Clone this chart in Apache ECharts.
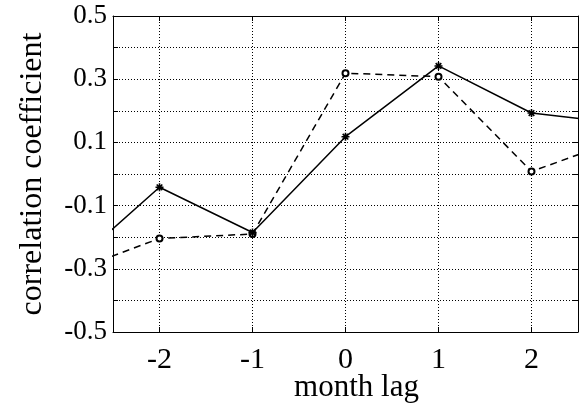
<!DOCTYPE html>
<html>
<head>
<meta charset="utf-8">
<script src="https://cdn.jsdelivr.net/npm/echarts@6/dist/echarts.min.js"></script>
<style>html,body{margin:0;padding:0;background:#fff;}#c{width:579px;height:406px;}</style>
</head>
<body>
<div id="c"></div>
<script>
// month lags (the lines run past the visible window and are clipped)
var lags = [-3, -2, -1, 0, 1, 2, 3];
// solid line with asterisk markers
var solidSeries = [-0.303, -0.042, -0.185, 0.118, 0.342, 0.193, 0.159];
// dashed line with open circle markers
var dashedSeries = [-0.314, -0.204, -0.19, 0.319, 0.308, 0.008, 0.114];
// tick labels
var xTickLabels = ['-2', '-1', '0', '1', '2'];
var yTickLabels = ['-0.5', '-0.3', '-0.1', '0.1', '0.3', '0.5'];

var FONT = 'Liberation Serif';
var solidData = lags.map(function (x, i) { return [x, solidSeries[i]]; });
var dashedData = lags.map(function (x, i) { return [x, dashedSeries[i]]; });
var asterisk = 'path://M0,-10L0,10M-10,0L10,0M-7,-7L7,7M-7,7L7,-7';

var gridLineStyle = { color: '#000', width: 1, type: [1, 2] };

var chart = echarts.init(document.getElementById('c'), null, { renderer: 'canvas' });
chart.setOption({
  animation: false,
  backgroundColor: '#fff',
  grid: { left: 113, right: 1, top: 16, bottom: 74, containLabel: false, outerBoundsMode: 'none' },
  xAxis: [{
    type: 'value', min: -2.5, max: 2.5, position: 'bottom',
    name: 'month lag', nameLocation: 'middle', nameGap: 40, nameMoveOverlap: false,
    nameTextStyle: { fontFamily: FONT, fontSize: 31, color: '#000', padding: [0, 0, 0, 22] },
    axisLine: { show: true, onZero: false, lineStyle: { color: '#000', width: 1 } },
    axisTick: { show: true, inside: true, length: 5, lineStyle: { color: '#000' } },
    axisLabel: {
      fontFamily: FONT, fontSize: 30, color: '#000', margin: 13,
      formatter: function (v) { var s = String(Math.round(v * 10) / 10); return xTickLabels.indexOf(s) >= 0 ? s : ''; }
    },
    splitLine: { show: true, lineStyle: gridLineStyle }
  }, {
    type: 'value', min: -2.5, max: 2.5, position: 'top',
    axisLine: { show: true, onZero: false, lineStyle: { color: '#000', width: 1 } },
    axisTick: { show: true, inside: true, length: 5, lineStyle: { color: '#000' } },
    axisLabel: { show: false },
    splitLine: { show: false }
  }],
  yAxis: [{
    type: 'value', min: -0.5, max: 0.5, interval: 0.1, position: 'left',
    name: 'correlation coefficient', nameLocation: 'middle', nameGap: 64, nameMoveOverlap: false,
    nameTextStyle: { fontFamily: FONT, fontSize: 32, color: '#000' },
    axisLine: { show: true, onZero: false, lineStyle: { color: '#000', width: 1 } },
    axisTick: { show: true, inside: true, length: 5, lineStyle: { color: '#000' } },
    axisLabel: {
      fontFamily: FONT, fontSize: 27, color: '#000', margin: 6,
      formatter: function (v) { var s = (Math.round(v * 10) / 10).toFixed(1); return yTickLabels.indexOf(s) >= 0 ? s : ''; }
    },
    splitLine: { show: true, lineStyle: gridLineStyle }
  }, {
    type: 'value', min: -0.5, max: 0.5, interval: 0.1, position: 'right',
    axisLine: { show: true, onZero: false, lineStyle: { color: '#000', width: 1 } },
    axisTick: { show: true, inside: true, length: 5, lineStyle: { color: '#000' } },
    axisLabel: { show: false },
    splitLine: { show: false }
  }],
  series: [{
    type: 'line', data: solidData, xAxisIndex: 0, yAxisIndex: 0,
    clip: true, symbol: asterisk, symbolSize: 8, showAllSymbol: true,
    lineStyle: { color: '#000', width: 1.5, type: 'solid' },
    itemStyle: { color: '#000', borderColor: '#000', borderWidth: 1.6 },
    z: 3
  }, {
    type: 'line', data: dashedData, xAxisIndex: 0, yAxisIndex: 0,
    clip: true, symbol: 'emptyCircle', symbolSize: 6, showAllSymbol: true,
    lineStyle: { color: '#000', width: 1.5, type: [7, 5] },
    itemStyle: { color: '#000', borderColor: '#000', borderWidth: 1.4 },
    z: 2
  }]
});
</script>
</body>
</html>
